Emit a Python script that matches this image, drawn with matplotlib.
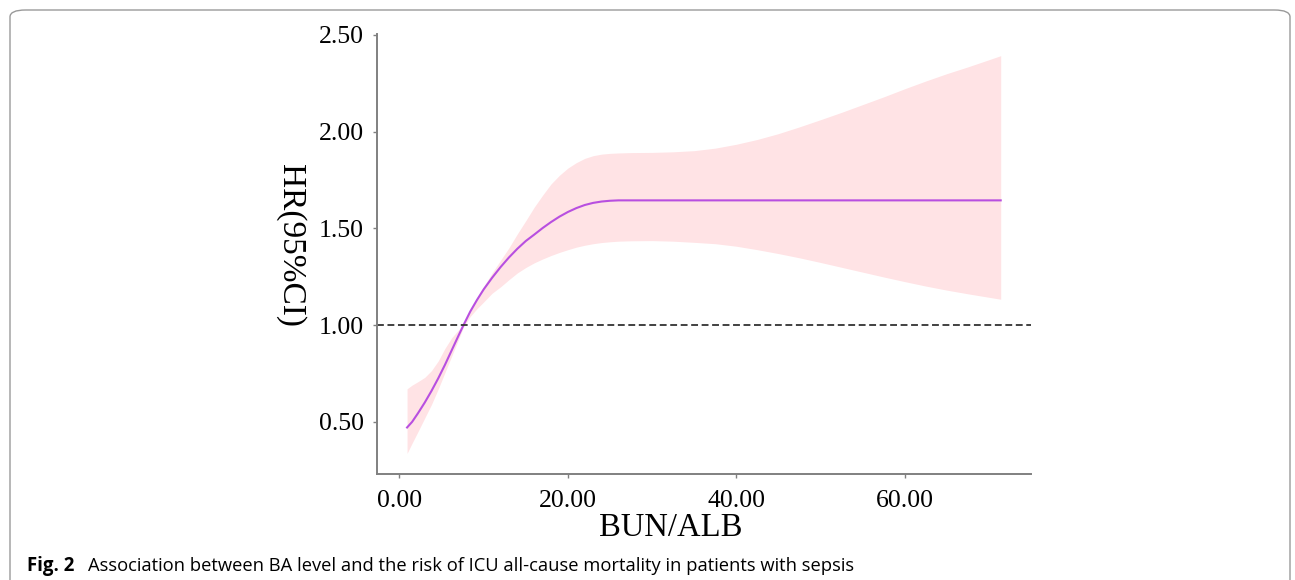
import matplotlib
matplotlib.use("Agg")
import matplotlib.pyplot as plt
from matplotlib.patches import FancyBboxPatch

# ---- data ----
bun_alb = [0.9, 1.5, 2.2, 3.0, 3.8, 4.6, 5.4, 6.2, 7.0, 7.6, 8.4, 9.2, 10.0, 11.0, 12.0,
           13.0, 14.0, 15.0, 16.0, 17.0, 18.0, 19.0, 20.0, 21.0, 22.0, 23.0, 24.0, 25.0,
           26.0, 27.5, 30.0, 32.5, 35.0, 37.5, 40.0, 42.5, 45.0, 47.5, 50.0, 52.5, 55.0,
           57.5, 60.0, 62.5, 65.0, 67.5, 70.0, 71.4]
hr = [0.471, 0.50, 0.545, 0.60, 0.66, 0.725, 0.795, 0.87, 0.945, 1.00, 1.07, 1.13, 1.185,
      1.245, 1.30, 1.35, 1.395, 1.435, 1.468, 1.502, 1.533, 1.561, 1.585, 1.605, 1.621,
      1.632, 1.639, 1.643, 1.645, 1.645, 1.645, 1.645, 1.645, 1.645, 1.645, 1.645, 1.645,
      1.645, 1.645, 1.645, 1.645, 1.645, 1.645, 1.645, 1.645, 1.645, 1.645, 1.645]
ci_upper = [0.671, 0.69, 0.708, 0.73, 0.765, 0.815, 0.88, 0.935, 0.975, 1.005, 1.07, 1.135,
            1.20, 1.27, 1.335, 1.40, 1.472, 1.54, 1.61, 1.672, 1.73, 1.775, 1.812, 1.84,
            1.862, 1.876, 1.884, 1.888, 1.89, 1.892, 1.893, 1.896, 1.902, 1.915, 1.935,
            1.96, 1.99, 2.025, 2.062, 2.10, 2.14, 2.18, 2.222, 2.262, 2.30, 2.335, 2.372,
            2.393]
ci_lower = [0.337, 0.39, 0.45, 0.52, 0.59, 0.67, 0.755, 0.84, 0.925, 0.99, 1.045, 1.085,
            1.12, 1.165, 1.198, 1.235, 1.27, 1.298, 1.322, 1.342, 1.36, 1.376, 1.39, 1.403,
            1.413, 1.421, 1.427, 1.431, 1.434, 1.436, 1.437, 1.434, 1.428, 1.421, 1.408,
            1.39, 1.37, 1.348, 1.324, 1.299, 1.274, 1.249, 1.225, 1.202, 1.181, 1.162,
            1.144, 1.134]
x_ticks = [0, 20, 40, 60]
x_tick_labels = ["0.00", "20.00", "40.00", "60.00"]
y_ticks = [0.5, 1.0, 1.5, 2.0, 2.5]
y_tick_labels = ["0.50", "1.00", "1.50", "2.00", "2.50"]
ref_hr = 1.0

W, H = 1295, 580
fig = plt.figure(figsize=(W / 100, H / 100), dpi=100)

# outer rounded frame
frame = FancyBboxPatch((10 / W, -0.2), 1280 / W, 1 - 10 / H + 0.2,
                       boxstyle="round,pad=0,rounding_size=0.012",
                       transform=fig.transFigure, fill=False,
                       edgecolor="#9a9a9a", linewidth=1.0)
fig.patches.append(frame)

ax = fig.add_axes([376.5 / W, 1 - 474.3 / H, (1030.6 - 376.5) / W, (474.3 - 34) / H])

ax.fill_between(bun_alb, ci_lower, ci_upper, color="#FFE3E5", linewidth=0)
ax.plot(bun_alb, hr, color="#B84FE0", linewidth=1.5)
ax.axhline(ref_hr, color="#333333", linewidth=1.3, dashes=(3.8, 2.0))

ax.set_xlim(-2.73, 74.95)
ax.set_ylim(0.229, 2.505)
ax.set_xticks(x_ticks)
ax.set_xticklabels(x_tick_labels)
ax.set_yticks(y_ticks)
ax.set_yticklabels(y_tick_labels)

for s in ["top", "right"]:
    ax.spines[s].set_visible(False)
for s in ["left", "bottom"]:
    ax.spines[s].set_color("#808080")
    ax.spines[s].set_linewidth(1.4)

ax.tick_params(axis="both", colors="#808080", length=3, width=1.0,
               labelcolor="black", labelsize=18.5)
ax.tick_params(axis="x", pad=8)
ax.tick_params(axis="y", pad=6)
for lbl in ax.get_xticklabels() + ax.get_yticklabels():
    lbl.set_fontfamily("Liberation Serif")

fig.text(671 / W, 1 - 528 / H, "BUN/ALB", family="Liberation Serif", fontsize=23.5,
         ha="center", va="center")
fig.text(290 / W, 1 - 245 / H, "HR(95%CI)", family="Liberation Serif", fontsize=24,
         rotation=270, ha="center", va="center")

fig.text(27 / W, 1 - 566 / H, "Fig. 2", family="Open Sans", fontweight="bold",
         fontsize=13.4, ha="left", va="center")
fig.text(88 / W, 1 - 566 / H,
         "Association between BA level and the risk of ICU all-cause mortality in patients with sepsis",
         family="Open Sans", fontsize=13.2, ha="left", va="center")

fig.savefig("out.png", dpi=100)
